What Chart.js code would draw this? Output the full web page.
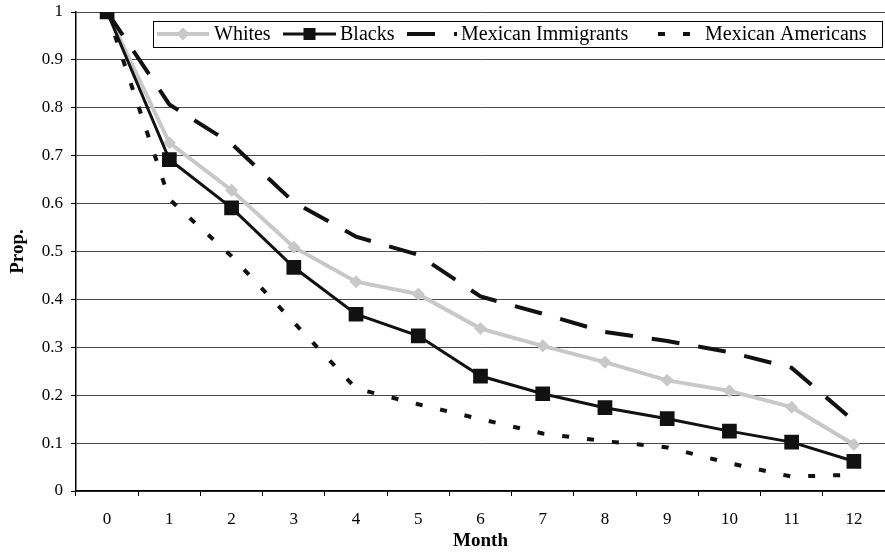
<!DOCTYPE html>
<html lang="en">
<head>
<meta charset="UTF-8">
<title>Prop. by Month</title>
<script src="https://cdn.jsdelivr.net/npm/chart.js"></script>
<style>
  html, body { margin: 0; padding: 0; background: #fff; }
</style>
</head>
<body>
<canvas id="chart" width="885" height="559"></canvas>
<script>
// values
const months = ['0', '1', '2', '3', '4', '5', '6', '7', '8', '9', '10', '11', '12'];
const whites = [1, 0.727, 0.628, 0.509, 0.437, 0.411, 0.339, 0.303, 0.269, 0.231, 0.209, 0.175, 0.097];
const blacks = [1, 0.692, 0.591, 0.467, 0.369, 0.324, 0.24, 0.203, 0.174, 0.151, 0.125, 0.102, 0.062];
const mexImmigrants = [1, 0.807, 0.725, 0.603, 0.531, 0.493, 0.406, 0.37, 0.332, 0.313, 0.29, 0.257, 0.146];
const mexAmericans = [1, 0.609, 0.49, 0.352, 0.214, 0.181, 0.15, 0.12, 0.104, 0.091, 0.058, 0.03, 0.034];
const seriesNames = ['Whites', 'Blacks', 'Mexican Immigrants', 'Mexican Americans'];

const FONT = "'Liberation Serif', 'Times New Roman', serif";

// legend drawn like the Excel box: line sample + marker + text
const legendSlots = [
    { x0: 157, x1: 209, tx: 214, r: 6.5 },
    { x0: 283, x1: 336, tx: 340, r: 8.5 },
    { x0: 407, x1: 457, tx: 461, r: 0 },
    { x0: 658, x1: 697, tx: 705, r: 0 }
];

const boxLegend = {
    id: 'boxLegend',
    afterDraw(chart) {
        const ctx = chart.ctx;
        const y = 34;
        ctx.save();
        ctx.fillStyle = '#fff';
        ctx.fillRect(153.5, 21.5, 729, 26);
        ctx.strokeStyle = '#000';
        ctx.lineWidth = 1;
        ctx.strokeRect(153.5, 21.5, 729, 26);

        chart.data.datasets.forEach((ds, i) => {
            const s = legendSlots[i];
            ctx.save();
            ctx.beginPath();
            ctx.rect(s.x0, y - 10, s.x1 - s.x0, 20);
            ctx.clip();
            ctx.strokeStyle = ds.borderColor;
            ctx.lineWidth = ds.borderWidth;
            ctx.setLineDash(ds.borderDash || []);
            ctx.beginPath();
            ctx.moveTo(s.x0, y);
            ctx.lineTo(s.x1, y);
            ctx.stroke();
            ctx.restore();
            if (s.r > 0) {
                ctx.fillStyle = ds.pointBackgroundColor;
                ctx.strokeStyle = ds.pointBorderColor;
                ctx.setLineDash([]);
                Chart.helpers.drawPoint(ctx, {
                    pointStyle: ds.pointStyle,
                    radius: s.r,
                    rotation: 0,
                    borderWidth: 0
                }, (s.x0 + s.x1) / 2, y);
            }
            ctx.fillStyle = '#000';
            ctx.font = '20px ' + FONT;
            ctx.textBaseline = 'middle';
            ctx.textAlign = 'left';
            ctx.fillText(ds.label, s.tx, y + 1);
        });
        ctx.restore();
    }
};

new Chart(document.getElementById('chart'), {
    type: 'line',
    data: {
        labels: months,
        datasets: [
            {
                label: seriesNames[0],
                data: whites,
                borderColor: '#c8c8c8',
                borderWidth: 4,
                pointStyle: 'rectRot',
                pointRadius: 6.5,
                pointBackgroundColor: '#c8c8c8',
                pointBorderColor: '#c8c8c8',
                pointBorderWidth: 0,
                order: 4
            },
            {
                label: seriesNames[1],
                data: blacks,
                borderColor: '#111',
                borderWidth: 3,
                pointStyle: 'rect',
                pointRadius: 10.4,
                pointBackgroundColor: '#111',
                pointBorderColor: '#111',
                pointBorderWidth: 0,
                order: 1
            },
            {
                label: seriesNames[2],
                data: mexImmigrants,
                borderColor: '#111',
                borderWidth: 4,
                borderDash: [28, 19],
                pointRadius: 0,
                order: 3
            },
            {
                label: seriesNames[3],
                data: mexAmericans,
                borderColor: '#111',
                borderWidth: 4,
                borderDash: [7, 18],
                pointRadius: 0,
                order: 2
            }
        ]
    },
    options: {
        responsive: false,
        animation: false,
        tension: 0,
        layout: {
            autoPadding: false,
            padding: { top: 12, right: 0, bottom: 0, left: 0 }
        },
        plugins: {
            legend: { display: false },
            tooltip: { enabled: false }
        },
        scales: {
            x: {
                offset: true,
                grid: {
                    offset: true,
                    drawOnChartArea: false,
                    tickLength: 5,
                    color: '#000'
                },
                border: { color: '#000', width: 1.5 },
                ticks: {
                    color: '#000',
                    padding: 13,
                    maxRotation: 0,
                    font: { family: FONT, size: 17 }
                },
                title: {
                    display: true,
                    text: 'Month',
                    color: '#000',
                    padding: { top: 0, bottom: 7 },
                    font: { family: FONT, size: 19, weight: 'bold' }
                },
                afterFit(scale) {
                    scale.height = 68;
                    scale.paddingLeft = 0;
                    scale.paddingRight = 0;
                }
            },
            y: {
                min: 0,
                max: 1,
                grid: {
                    color: '#4a4a4a',
                    tickColor: '#000',
                    tickLength: 5,
                    lineWidth: 1
                },
                border: { color: '#000', width: 1.5 },
                ticks: {
                    stepSize: 0.1,
                    color: '#000',
                    padding: 8,
                    font: { family: FONT, size: 17 },
                    callback: v => String(Math.round(v * 10) / 10)
                },
                title: {
                    display: true,
                    text: 'Prop.',
                    color: '#000',
                    padding: { top: 7, bottom: 0 },
                    font: { family: FONT, size: 19, weight: 'bold' }
                },
                afterFit(scale) {
                    scale.width = 76;
                    scale.paddingTop = 0;
                    scale.paddingBottom = 0;
                }
            }
        }
    },
    plugins: [boxLegend]
});
</script>
</body>
</html>
